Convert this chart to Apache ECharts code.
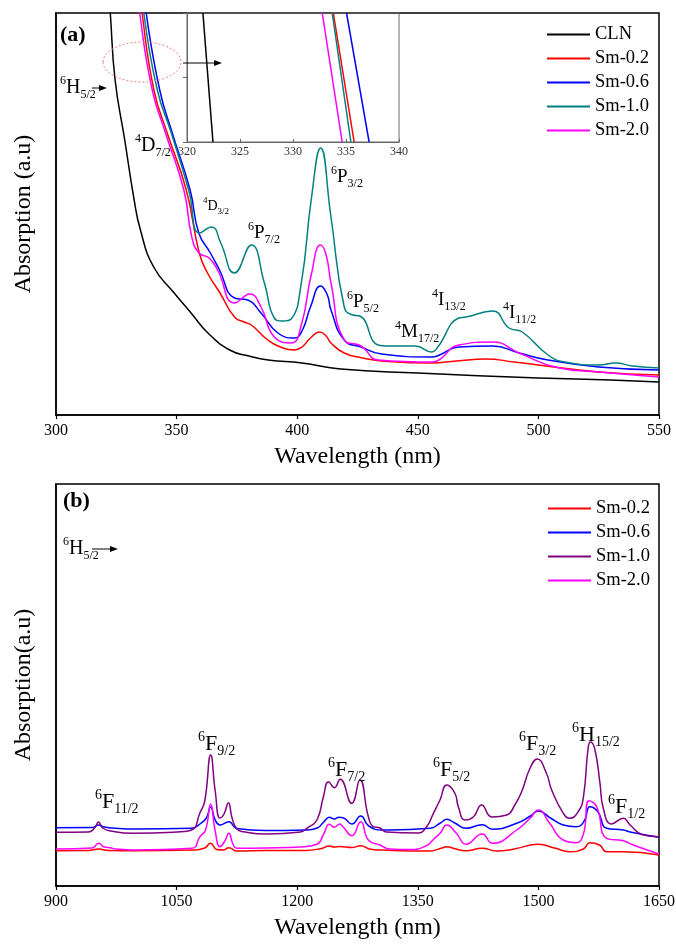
<!DOCTYPE html>
<html>
<head>
<meta charset="utf-8">
<script src="https://cdn.jsdelivr.net/npm/echarts@6/dist/echarts.min.js"></script>
<style>
  html, body { margin: 0; padding: 0; background: #fff; }
  #chart { width: 676px; height: 945px; }
</style>
</head>
<body>
<div id="chart"></div>
<script>
// ---- data (y in arbitrary units) ----
// panel (a): UV-Vis, 300-550 nm
const cln = [[321.2, 440], [322.5, 402], [324.5, 335], [328.5, 275], [332.2, 218], [335, 185], [340.5, 148], [349, 122], [356, 102], [363, 82], [372, 65], [380, 59], [388, 55], [402, 52], [418, 46], [450, 42], [500, 37], [530, 35], [550, 33]];
const sm02a = [[334.3, 440], [335.7, 402], [340.6, 325], [346.1, 282], [354, 225], [359.4, 162], [362.8, 142], [368, 122], [374, 98], [378, 93], [381, 90], [387.8, 75], [393, 68], [398.8, 65], [402, 68], [405.5, 77], [409.3, 83], [412, 79], [414, 72], [419.5, 62], [427, 57], [435, 54], [455.8, 52], [466, 54], [478, 56], [490, 53], [500, 50], [525, 43], [550, 40]];
const sm06a = [[336, 440], [337.4, 402], [343, 325], [348.2, 282], [355.6, 225], [359.2, 182], [364, 162], [367.6, 146], [374, 117], [379.5, 115], [385, 102], [392, 82], [398.8, 77], [402, 84], [405.5, 108], [409.7, 129], [412.5, 120], [414, 105], [419.5, 75], [426.5, 68], [435, 61], [455.8, 58], [459, 60], [467, 68], [481, 69], [492, 62], [504, 55], [525, 48], [550, 45]];
const sm10a = [[335, 440], [336.4, 402], [342, 325], [347.8, 282], [355, 225], [359.5, 182], [364.5, 188], [368.3, 172], [374, 142], [381, 170], [386.4, 132], [390.5, 97], [394, 94], [397.5, 96], [401.7, 132], [405.8, 215], [409.7, 267], [414, 198], [419.5, 108], [423, 100], [426, 99], [433.6, 70], [438, 69], [449, 69], [455.8, 63], [458, 67], [467, 97], [470, 98], [481, 104], [487.8, 87], [493.3, 83], [504, 60], [511, 53], [525, 50], [532, 52], [539, 49], [550, 47]];
const sm20a = [[333.3, 440], [334.7, 402], [339.9, 325], [345.4, 282], [353, 225], [356.3, 178], [359.3, 162], [363.5, 157], [367, 145], [374, 112], [380.4, 121], [385, 108], [390.5, 78], [397.5, 72], [401.7, 90], [405.8, 140], [409.7, 170], [412, 160], [414, 132], [419.5, 75], [426.5, 69], [433.6, 55], [455.8, 53], [458, 54], [467, 70], [481, 73], [492, 62], [508.6, 47], [525, 43], [550, 38]];

// inset of panel (a): 320-340 nm, top and bottom crossing points
const insetCln = [[321.5, 2], [322.45, 0]];
const insetSm02 = [[333.8, 2], [335.77, 0]];
const insetSm06 = [[335.05, 2], [337.18, 0]];
const insetSm10 = [[333.7, 2], [335.46, 0]];
const insetSm20 = [[332.76, 2], [334.64, 0]];

// panel (b): NIR, 900-1650 nm
const sm02b = [[900, 35.3], [940, 35.5], [953, 37], [965, 35.5], [1000, 35.3], [1070, 36], [1085, 38], [1092, 42.7], [1100, 36.5], [1108, 36], [1115, 38.3], [1125, 35], [1160, 35.5], [1210, 35.5], [1230, 37.5], [1240, 40], [1246, 39], [1253, 39.5], [1268, 38.5], [1279, 40.3], [1290, 37], [1305, 36], [1365, 35], [1380, 38], [1386, 39.3], [1395, 37.5], [1410, 35.3], [1430, 37.7], [1448, 35], [1470, 37], [1500, 41.7], [1520, 38], [1539, 34.3], [1556, 37], [1564, 43.3], [1576, 41], [1585, 34.3], [1605, 34.3], [1650, 31]];
const sm06b = [[900, 58.3], [945, 58.5], [953, 61], [960, 59], [970, 58], [1000, 57], [1069, 57.7], [1079, 62], [1087, 68], [1092.4, 79], [1098, 66], [1104, 61], [1115, 64.3], [1125, 57.5], [1160, 55.5], [1210, 56], [1225, 58], [1233, 64], [1240, 68.7], [1246, 67], [1252, 68.7], [1257, 68.3], [1268, 62], [1279, 70], [1289, 60], [1306, 56], [1315, 56], [1365, 57.7], [1378, 63], [1386, 66.7], [1396, 63], [1410, 57.7], [1430, 61.3], [1443, 56.7], [1473, 62.7], [1490, 70], [1500, 75], [1515, 68], [1531, 61], [1547, 59.3], [1557, 65], [1564, 79.3], [1574, 74.3], [1585, 57.7], [1605.6, 56], [1614, 54], [1650, 48.7]];
const sm10b = [[900, 53.7], [940, 54], [948, 58], [953, 64], [958, 58], [968, 55], [996, 52.7], [1050, 54], [1068.8, 56], [1079, 73], [1085, 85], [1092.4, 131], [1098, 95], [1104, 68], [1109, 72], [1114.5, 83.3], [1119, 68], [1125, 57], [1133, 54.3], [1162, 52], [1204, 54], [1212, 57.7], [1224.5, 66], [1232.5, 89], [1239, 104.3], [1246.3, 98.3], [1253.4, 106.7], [1267.8, 82.7], [1278, 106], [1288.5, 69.3], [1294.7, 59.3], [1303, 58], [1311, 54], [1350, 53], [1361, 59.3], [1369.4, 72.7], [1377.6, 86], [1386, 101], [1396, 93], [1400.4, 79.3], [1408.7, 66], [1419, 69], [1429.5, 81], [1442, 69], [1460.6, 71], [1470, 80], [1479, 94], [1489.6, 117.7], [1498.6, 127], [1510, 112.7], [1516.5, 96], [1531, 72.7], [1539, 67.7], [1550, 75], [1556, 89], [1562, 139], [1565, 144], [1570.4, 136], [1576.6, 102.7], [1580.7, 77.7], [1591, 62], [1605.6, 67.7], [1614, 61], [1630.5, 51], [1650, 49.3]];
const sm20b = [[900, 37], [945, 38], [953, 42.7], [960, 39], [967, 38.3], [975, 37], [996, 36], [1069, 37.7], [1079, 49.3], [1086, 56], [1092.4, 82], [1098, 55], [1104, 39.3], [1110, 45], [1115, 52.7], [1120, 42], [1125, 37.7], [1160, 38], [1204, 39], [1225, 42], [1233, 52], [1240, 61.7], [1246, 58.7], [1253, 62], [1257, 59.3], [1268, 50.3], [1279, 64.3], [1288.5, 46], [1303, 41], [1315, 37], [1340, 36.5], [1360, 40], [1370, 47], [1378, 53], [1386, 61], [1398, 52.7], [1410, 41.7], [1430, 52], [1443, 42.7], [1473, 56], [1490, 68], [1500, 76], [1514, 62.7], [1531, 46], [1547, 43.3], [1556, 52], [1563, 85.3], [1572.5, 79.3], [1585, 47.7], [1605.6, 45.3], [1618, 41], [1650, 32]];

const xTicksA = [300, 550, 50];
const xTicksB = [900, 1650, 150];
const xTicksInset = [320, 340, 5];

const legendA = ['CLN', 'Sm-0.2', 'Sm-0.6', 'Sm-1.0', 'Sm-2.0'];
const legendB = ['b:Sm-0.2', 'b:Sm-0.6', 'b:Sm-1.0', 'b:Sm-2.0'];

const colors = { 'CLN': '#000000', 'Sm-0.2': '#ff0000', 'Sm-0.6': '#0000ff', 'Sm-1.0': '#008080', 'Sm-2.0': '#ff00ff', 'b:Sm-1.0': '#800080' };

// ---- chart ----
const FONT = '"Liberation Serif", "Times New Roman", serif';
const chart = echarts.init(document.getElementById('chart'));

function line(name, data, idx, color) {
  return {
    name: name, type: 'line', data: data,
    xAxisIndex: idx, yAxisIndex: idx,
    showSymbol: false, symbol: 'none', smooth: 0.5,
    lineStyle: { width: 1.5, color: color }, itemStyle: { color: color },
    animation: false
  };
}

function mainX(gi, t, name) {
  return {
    type: 'value', gridIndex: gi, min: t[0], max: t[1], interval: t[2],
    name: name, nameLocation: 'middle', nameGap: 30,
    nameTextStyle: { fontFamily: FONT, fontSize: 24, color: '#000' },
    axisLine: { lineStyle: { color: '#000', width: 1.5 } },
    axisTick: { show: true, inside: false, length: 4, lineStyle: { color: '#000', width: 1.2 } },
    axisLabel: { fontFamily: FONT, fontSize: 16, color: '#000', margin: 8, formatter: v => String(v) },
    splitLine: { show: false }
  };
}

function mainY(gi, name) {
  return {
    type: 'value', gridIndex: gi, min: 0, max: 402,
    name: name, nameLocation: 'middle', nameGap: 20,
    nameTextStyle: { fontFamily: FONT, fontSize: 24, color: '#000' },
    axisLine: { show: true, lineStyle: { color: '#000', width: 1.5 } },
    axisTick: { show: false }, axisLabel: { show: false }, splitLine: { show: false }
  };
}

// rich text for term symbols: {s|6}{m|P}{d|3/2}
function richSet(big, small) {
  return {
    m: { fontFamily: FONT, fontSize: big, lineHeight: big + 6, verticalAlign: 'middle', fill: '#000', color: '#000' },
    s: { fontFamily: FONT, fontSize: small, lineHeight: small, verticalAlign: 'top', fill: '#000', color: '#000' },
    d: { fontFamily: FONT, fontSize: small, lineHeight: small, verticalAlign: 'bottom', fill: '#000', color: '#000' }
  };
}
function term(x, y, sup, letter, sub, big, small) {
  return {
    type: 'text', x: x, y: y - 2, z: 100,
    style: { text: '{s|' + sup + '}{m|' + letter + '}{d|' + sub + '}', rich: richSet(big, small), fill: '#000' }
  };
}

const labelsA = [
  term(60, 77, '6', 'H', '5/2', 20, 12),
  term(135, 135, '4', 'D', '7/2', 20, 12),
  term(203, 198, '4', 'D', '3/2', 14, 9),
  term(248, 223, '6', 'P', '7/2', 19, 12),
  term(331, 167, '6', 'P', '3/2', 19, 12),
  term(347, 292, '6', 'P', '5/2', 19, 12),
  term(395, 322, '4', 'M', '17/2', 19, 12),
  term(432, 290, '4', 'I', '13/2', 19, 12),
  term(503, 303, '4', 'I', '11/2', 19, 12)
];
const labelsB = [
  term(63, 538, '6', 'H', '5/2', 20, 12),
  term(95, 790, '6', 'F', '11/2', 22, 14),
  term(198, 732, '6', 'F', '9/2', 22, 14),
  term(328, 758, '6', 'F', '7/2', 22, 14),
  term(433, 758, '6', 'F', '5/2', 22, 14),
  term(519, 732, '6', 'F', '3/2', 22, 14),
  term(572, 723, '6', 'H', '15/2', 22, 14),
  term(608, 795, '6', 'F', '1/2', 22, 14)
];

function arrow(x1, x2, y) {
  return [
    { type: 'line', z: 100, shape: { x1: x1, y1: y, x2: x2 - 6, y2: y }, style: { stroke: '#000', lineWidth: 1 } },
    { type: 'polygon', z: 100, shape: { points: [[x2 - 8, y - 3], [x2, y], [x2 - 8, y + 3]] }, style: { fill: '#000' } }
  ];
}

const gridBase = { outerBoundsMode: 'none', containLabel: false, show: true, backgroundColor: 'transparent' };

const option = {
  backgroundColor: '#fff',
  animation: false,
  grid: [
    Object.assign({ left: 56, top: 13, width: 603, height: 402, borderColor: '#000', borderWidth: 1.5 }, gridBase),
    Object.assign({ left: 56, top: 484, width: 603, height: 402, borderColor: '#000', borderWidth: 1.5 }, gridBase),
    Object.assign({ left: 187, top: 13, width: 212, height: 129, borderColor: '#666', borderWidth: 1 }, gridBase)
  ],
  xAxis: [
    mainX(0, xTicksA, 'Wavelength (nm)'),
    mainX(1, xTicksB, 'Wavelength (nm)'),
    {
      type: 'value', gridIndex: 2, min: xTicksInset[0], max: xTicksInset[1], interval: xTicksInset[2],
      axisLine: { lineStyle: { color: '#666', width: 1 } },
      axisTick: { show: true, inside: true, length: 3, lineStyle: { color: '#666' } },
      axisLabel: { fontFamily: FONT, fontSize: 12, color: '#333', margin: 4 },
      splitLine: { show: false }
    }
  ],
  yAxis: [
    mainY(0, 'Absorption (a.u)'),
    mainY(1, 'Absorption(a.u)'),
    {
      type: 'value', gridIndex: 2, min: 0, max: 2, interval: 1,
      axisLine: { show: true, lineStyle: { color: '#666', width: 1 } },
      axisTick: { show: true, length: 4, lineStyle: { color: '#666' } },
      axisLabel: { show: false }, splitLine: { show: false }
    }
  ],
  legend: [
    {
      data: legendA, orient: 'vertical', left: 547, top: 25, padding: 0, itemWidth: 43, itemHeight: 2, itemGap: 5,
      icon: 'rect', selectedMode: false,
      textStyle: { fontFamily: FONT, fontSize: 18.5, lineHeight: 19, color: '#000' }
    },
    {
      data: legendB, orient: 'vertical', left: 548, top: 499, padding: 0, itemWidth: 43, itemHeight: 2, itemGap: 5,
      icon: 'rect', selectedMode: false,
      formatter: function (n) { return n.replace('b:', ''); },
      textStyle: { fontFamily: FONT, fontSize: 18.5, lineHeight: 19, color: '#000' }
    }
  ],
  series: [
    line('CLN', cln, 0, colors['CLN']),
    line('Sm-0.2', sm02a, 0, colors['Sm-0.2']),
    line('Sm-0.6', sm06a, 0, colors['Sm-0.6']),
    line('Sm-1.0', sm10a, 0, colors['Sm-1.0']),
    line('Sm-2.0', sm20a, 0, colors['Sm-2.0']),
    line('b:Sm-0.2', sm02b, 1, colors['Sm-0.2']),
    line('b:Sm-0.6', sm06b, 1, colors['Sm-0.6']),
    line('b:Sm-1.0', sm10b, 1, colors['b:Sm-1.0']),
    line('b:Sm-2.0', sm20b, 1, colors['Sm-2.0']),
    line('i:CLN', insetCln, 2, colors['CLN']),
    line('i:Sm-0.2', insetSm02, 2, colors['Sm-0.2']),
    line('i:Sm-0.6', insetSm06, 2, colors['Sm-0.6']),
    line('i:Sm-1.0', insetSm10, 2, colors['Sm-1.0']),
    line('i:Sm-2.0', insetSm20, 2, colors['Sm-2.0'])
  ],
  graphic: [
    { type: 'text', x: 60, y: 24, z: 100, style: { text: '(a)', font: 'bold 22px ' + FONT, fill: '#000' } },
    { type: 'text', x: 63, y: 490, z: 100, style: { text: '(b)', font: 'bold 22px ' + FONT, fill: '#000' } },
    { type: 'ellipse', z: 100, shape: { cx: 142, cy: 62, rx: 39, ry: 20 }, style: { fill: 'none', stroke: '#f08080', lineWidth: 1, lineDash: [2, 2] } },
    ...arrow(183, 222, 63),
    ...arrow(92, 107, 88),
    ...arrow(92, 118, 549)
  ].concat(labelsA, labelsB)
};

chart.setOption(option);
window.addEventListener('resize', () => chart.resize());
</script>
</body>
</html>
